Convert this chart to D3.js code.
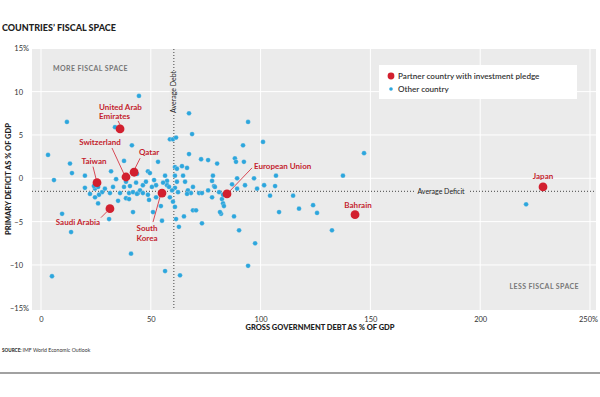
<!DOCTYPE html>
<html>
<head>
<meta charset="utf-8">
<script src="https://cdn.jsdelivr.net/npm/d3@7"></script>
<style>
  body { margin: 0; background: #fff; }
  svg { display: block; font-family: Lato, "Open Sans", sans-serif; }
</style>
</head>
<body>
<svg id="chart" width="600" height="397"></svg>
<script>
// partner countries (red)
const partnerNames = ['United Arab Emirates', 'Switzerland', 'Qatar', 'Taiwan', 'Saudi Arabia',
  'South Korea', 'European Union', 'Bahrain', 'Japan'];
const partnerDebt = [36.0, 38.7, 42.4, 25.5, 31.4, 55.1, 84.7, 143.0, 228.6];
const partnerDeficit = [5.7, 0.15, 0.7, -0.5, -3.5, -1.7, -1.8, -4.2, -1.0];

// other countries (blue)
const otherDebt = [
  44.6, 11.8, 33.7, 67.4, 94.3, 68.8, 58.7, 60.1, 61.5, 101.1, 92.0, 41.4, 3.2, 13.2, 14.1, 5.9,
  20.0, 31.9, 37.8, 53.3, 67.4, 72.9, 76.1, 80.2, 88.3, 88.8, 92.4, 147.1, 137.5, 48.7, 49.6, 43.7,
  61.0, 61.9, 64.2, 66.5, 56.5, 57.4, 61.0, 64.7, 78.3, 77.9, 78.8, 89.3, 97.0, 107.0, 92.9, 101.6,
  98.4, 106.6, 20.0, 22.3, 24.6, 26.0, 27.8, 29.1, 26.4, 24.6, 26.0, 31.4, 32.8, 34.2, 36.0, 37.8,
  38.7, 40.5, 40.1, 41.9, 43.3, 44.2, 38.7, 40.1, 35.1, 46.4, 47.8, 51.5, 52.4, 50.5, 45.1, 43.7,
  46.4, 48.7, 49.2, 52.4, 55.6, 57.4, 58.3, 61.9, 65.6, 61.0, 59.7, 58.7, 62.4, 66.9, 68.3, 66.5,
  69.2, 72.0, 73.3, 76.1, 79.2, 81.1, 82.4, 82.9, 77.9, 82.9, 83.3, 82.0, 87.9, 87.0, 89.3, 60.1,
  61.0, 69.2, 70.6, 81.5, 41.9, 51.0, 61.5, 62.8, 65.1, 73.3, 54.6, 55.1, 31.0, 13.7, 9.6, 5.0,
  41.0, 56.5, 63.3, 94.3, 97.5, 90.2, 104.3, 114.8, 117.5, 108.4, 123.9, 125.7, 132.5, 220.9, 24.1
];
const otherDeficit = [
  9.5, 6.5, 5.9, 7.5, 6.5, 5.1, 4.5, 4.5, 4.7, 4.2, 3.8, 3.8, 2.7, 1.7, 0.6, -0.2,
  0.3, 0.8, 2.0, 1.9, 2.8, 2.2, 2.1, 1.7, 2.3, 1.9, 1.9, 2.9, 0.3, 0.8, 0.6, 0.5,
  1.3, 1.1, 1.4, 1.2, 0.3, -0.3, 0.3, 0.3, 0.3, -0.3, -0.9, 0.0, 0.0, 0.3, -0.8, -0.8,
  -1.2, -0.9, -1.1, -1.8, -1.2, -1.0, -1.6, -1.2, -1.9, -2.2, -2.9, -1.7, -1.0, -0.1, -1.7, -1.0,
  -0.4, -0.9, -1.7, -1.6, -0.5, -1.7, -2.3, -2.4, -2.6, -0.8, -0.4, -0.2, -0.8, -1.0, -1.4, -1.8,
  -1.7, -1.9, -2.5, -2.2, -0.5, -0.8, -1.0, -0.4, -0.4, -1.1, -1.4, -2.2, -1.6, -1.4, -1.7, -1.8,
  -1.0, -1.7, -1.7, -1.4, -1.0, -1.6, -2.4, -2.9, -2.2, -1.9, -3.2, -4.1, -4.4, -0.7, -1.2, -2.7,
  -3.3, -3.7, -3.7, -3.9, -3.9, -3.9, -4.7, -5.6, -4.4, -5.2, -3.2, -4.9, -4.7, -6.2, -4.1, -11.3,
  -8.7, -10.7, -11.2, -10.1, -7.5, -6.0, -2.0, -2.0, -3.5, -3.9, -3.1, -4.0, -6.0, -3.0, -0.9
];

const averageDebt = 60.5;
const averageDeficit = -1.5;

const xTicks = [0, 50, 100, 150, 200, 250];
const yTicks = [15, 10, 5, 0, -5, -10, -15];

// label placement relative to each red dot, in pixels
const labelLayout = {
  'United Arab Emirates': { lines: ['United Arab', 'Emirates'], dx: -21, dy: -19, anchor: 'start', lead: [-2, -8, 0, -4] },
  'Switzerland': { lines: ['Switzerland'], dx: -26, dy: -32, anchor: 'middle', lead: [-14, -29, -2, -3] },
  'Qatar': { lines: ['Qatar'], dx: 15, dy: -17, anchor: 'middle', lead: [6, -14, 1, -4] },
  'Taiwan': { lines: ['Taiwan'], dx: -3, dy: -19, anchor: 'middle', lead: [-4, -16, -1, -4] },
  'Saudi Arabia': { lines: ['Saudi Arabia'], dx: -32, dy: 16, anchor: 'middle', lead: [-9, 9, -3, 3] },
  'South Korea': { lines: ['South', 'Korea'], dx: -15, dy: 38, anchor: 'middle', lead: [-9, 29, -2, 4] },
  'European Union': { lines: ['European Union'], dx: 27, dy: -25, anchor: 'start', lead: [25, -26, 3, -3] },
  'Bahrain': { lines: ['Bahrain'], dx: 3, dy: -7, anchor: 'middle', lead: null },
  'Japan': { lines: ['Japan'], dx: 0, dy: -8, anchor: 'middle', lead: null }
};

const RED = '#d2202f';
const BLUE = '#2ca6dd';
const PANEL = '#ebebeb';

const svg = d3.select('#chart');
const plot = { left: 32, right: 596, top: 49, bottom: 310 };

const x = d3.scaleLinear().domain([0, 250]).range([41, 590]);
const y = d3.scaleLinear().domain([-15, 15]).range([308.3, 48.3]);

// title
svg.append('text')
  .attr('x', 2).attr('y', 31)
  .attr('font-size', 9).attr('font-weight', 900)
  .attr('fill', '#222')
  .text('COUNTRIES\u2019 FISCAL SPACE');

// panel
svg.append('rect')
  .attr('x', plot.left).attr('y', plot.top)
  .attr('width', plot.right - plot.left).attr('height', plot.bottom - plot.top)
  .attr('fill', PANEL);

// grid
svg.append('g').selectAll('line.vg')
  .data(xTicks).join('line')
  .attr('x1', d => x(d)).attr('x2', d => x(d))
  .attr('y1', plot.top).attr('y2', plot.bottom)
  .attr('stroke', '#fff').attr('stroke-width', 1);
svg.append('g').selectAll('line.hg')
  .data(yTicks.filter(d => Math.abs(d) < 15)).join('line')
  .attr('x1', plot.left).attr('x2', plot.right)
  .attr('y1', d => y(d)).attr('y2', d => y(d))
  .attr('stroke', '#fff').attr('stroke-width', 1);

// axes (labels only)
const xAxis = svg.append('g')
  .attr('transform', 'translate(0,' + 314 + ')')
  .call(d3.axisBottom(x).tickValues(xTicks).tickSize(0)
    .tickFormat(d => d === 250 ? '250%' : d));
xAxis.select('.domain').remove();
xAxis.selectAll('text')
  .attr('font-family', 'Lato, sans-serif').attr('font-size', 7.5).attr('fill', '#333')
  .attr('dx', d => d === 250 ? -2 : 0);

const yAxis = svg.append('g')
  .attr('transform', 'translate(23,0)')
  .call(d3.axisLeft(y).tickValues(yTicks).tickSize(0).tickPadding(0)
    .tickFormat(d => String(d).replace('-', '\u2212')));
yAxis.select('.domain').remove();
yAxis.selectAll('text')
  .attr('font-family', 'Lato, sans-serif').attr('font-size', 7.5).attr('fill', '#333');
yAxis.selectAll('.tick')
  .filter(d => Math.abs(d) === 15)
  .append('text')
  .attr('x', 0).attr('dy', '0.32em')
  .attr('text-anchor', 'start')
  .attr('font-family', 'Lato, sans-serif').attr('font-size', 7.5).attr('fill', '#333')
  .text('%');

// axis titles
svg.append('text')
  .attr('x', 320).attr('y', 330)
  .attr('text-anchor', 'middle')
  .attr('font-size', 7.5).attr('font-weight', 900).attr('fill', '#222')
  .text('GROSS GOVERNMENT DEBT AS % OF GDP');
svg.append('text')
  .attr('transform', 'translate(11,179) rotate(-90)')
  .attr('text-anchor', 'middle')
  .attr('font-size', 7.5).attr('font-weight', 900).attr('fill', '#222')
  .text('PRIMARY DEFICIT AS % OF GDP');

// quadrant notes
svg.append('text')
  .attr('x', 53).attr('y', 71)
  .attr('font-size', 7).attr('font-weight', 700).attr('fill', '#777')
  .attr('letter-spacing', 0.4)
  .text('MORE FISCAL SPACE');
svg.append('text')
  .attr('x', 579).attr('y', 289)
  .attr('text-anchor', 'end')
  .attr('font-size', 7).attr('font-weight', 700).attr('fill', '#777')
  .attr('letter-spacing', 0.4)
  .text('LESS FISCAL SPACE');

// average lines
svg.append('line')
  .attr('x1', x(averageDebt)).attr('x2', x(averageDebt))
  .attr('y1', plot.top).attr('y2', plot.bottom)
  .attr('stroke', '#444').attr('stroke-width', 1).attr('stroke-dasharray', '1,2');
svg.append('line')
  .attr('x1', plot.left).attr('x2', plot.right)
  .attr('y1', y(averageDeficit)).attr('y2', y(averageDeficit))
  .attr('stroke', '#444').attr('stroke-width', 1).attr('stroke-dasharray', '1,2');

// labels for the average lines, knocked out of the dotted line
svg.append('rect')
  .attr('x', x(averageDebt) - 4).attr('y', 72)
  .attr('width', 8).attr('height', 43).attr('fill', PANEL);
svg.append('text')
  .attr('transform', 'translate(' + (x(averageDebt) + 2.5) + ',113) rotate(-90)')
  .attr('font-size', 7).attr('fill', '#222')
  .text('Average Debt');
svg.append('rect')
  .attr('x', 414).attr('y', y(averageDeficit) - 4)
  .attr('width', 55).attr('height', 8).attr('fill', PANEL);
svg.append('text')
  .attr('x', 441).attr('y', y(averageDeficit) + 2.5)
  .attr('text-anchor', 'middle')
  .attr('font-size', 7).attr('fill', '#222')
  .text('Average Deficit');

// other countries
svg.append('g').selectAll('circle')
  .data(otherDebt.map((d, i) => [d, otherDeficit[i]]))
  .join('circle')
  .attr('cx', d => x(d[0])).attr('cy', d => y(d[1]))
  .attr('r', 2.4)
  .attr('fill', BLUE)
  .attr('stroke', PANEL).attr('stroke-width', 0.3);

// partner countries
const partners = partnerNames.map((n, i) => ({ name: n, debt: partnerDebt[i], deficit: partnerDeficit[i] }));

svg.append('g').selectAll('line')
  .data(partners.filter(p => labelLayout[p.name].lead))
  .join('line')
  .attr('x1', p => x(p.debt) + labelLayout[p.name].lead[0])
  .attr('y1', p => y(p.deficit) + labelLayout[p.name].lead[1])
  .attr('x2', p => x(p.debt) + labelLayout[p.name].lead[2])
  .attr('y2', p => y(p.deficit) + labelLayout[p.name].lead[3])
  .attr('stroke', RED).attr('stroke-width', 0.8);

svg.append('g').selectAll('circle')
  .data(partners)
  .join('circle')
  .attr('cx', p => x(p.debt)).attr('cy', p => y(p.deficit))
  .attr('r', 4.4)
  .attr('fill', RED);

const labels = svg.append('g').selectAll('text')
  .data(partners)
  .join('text')
  .attr('x', p => x(p.debt) + labelLayout[p.name].dx)
  .attr('y', p => y(p.deficit) + labelLayout[p.name].dy)
  .attr('text-anchor', p => labelLayout[p.name].anchor)
  .attr('font-size', 8).attr('font-weight', 700)
  .attr('fill', '#c41e2e');
labels.selectAll('tspan')
  .data(p => labelLayout[p.name].lines.map(l => ({ l, p })))
  .join('tspan')
  .attr('x', d => x(d.p.debt) + labelLayout[d.p.name].dx)
  .attr('dy', (d, i) => i === 0 ? 0 : 9.5)
  .text(d => d.l);

// legend
svg.append('rect')
  .attr('x', 379).attr('y', 65).attr('width', 198).attr('height', 34)
  .attr('fill', '#fff');
svg.append('circle').attr('cx', 391).attr('cy', 76).attr('r', 3.4).attr('fill', RED);
svg.append('circle').attr('cx', 391).attr('cy', 89).attr('r', 1.8).attr('fill', BLUE);
svg.append('text').attr('x', 398).attr('y', 78.7)
  .attr('font-size', 8.1).attr('font-weight', 600).attr('fill', '#333')
  .text('Partner country with investment pledge');
svg.append('text').attr('x', 398).attr('y', 91.7)
  .attr('font-size', 8.1).attr('font-weight', 600).attr('fill', '#333')
  .text('Other country');

// source + rule
const src = svg.append('text').attr('x', 2).attr('y', 352)
  .attr('font-size', 5.2).attr('fill', '#333');
src.append('tspan').attr('font-weight', 900).attr('font-size', 4.6).text('SOURCE: ');
src.append('tspan').text('IMF World Economic Outlook');

svg.append('line')
  .attr('x1', 0).attr('x2', 600).attr('y1', 373).attr('y2', 373)
  .attr('stroke', '#444').attr('stroke-width', 1.2);
</script>
</body>
</html>
